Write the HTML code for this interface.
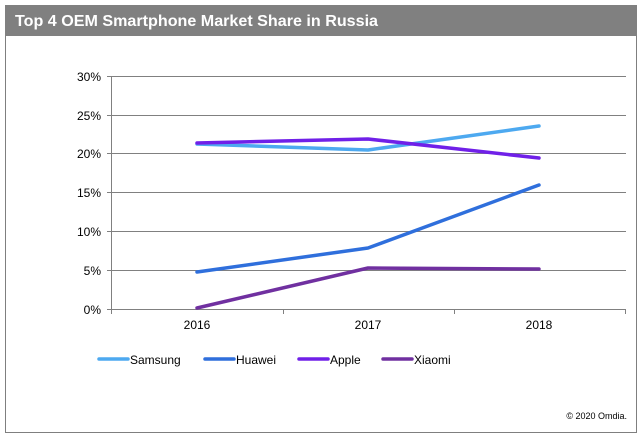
<!DOCTYPE html>
<html><head><style>
body{margin:0;background:#fff;}
svg text{font-family:"Liberation Sans",Arial,sans-serif;}
</style></head><body>
<svg width="642" height="438" xmlns="http://www.w3.org/2000/svg">
<rect x="5.5" y="5.5" width="631" height="427" fill="#fff" stroke="#7f7f7f"/>
<rect x="5" y="5" width="632" height="31" fill="#808080"/>
<text x="15" y="26" font-size="16" font-weight="bold" fill="#fff" textLength="363" lengthAdjust="spacingAndGlyphs">Top 4 OEM Smartphone Market Share in Russia</text>
<g stroke="#808080" stroke-width="1">
<line x1="107" y1="76.5" x2="626" y2="76.5"/>
<line x1="107" y1="115.5" x2="626" y2="115.5"/>
<line x1="107" y1="153.5" x2="626" y2="153.5"/>
<line x1="107" y1="192.5" x2="626" y2="192.5"/>
<line x1="107" y1="231.5" x2="626" y2="231.5"/>
<line x1="107" y1="270.5" x2="626" y2="270.5"/>
<line x1="107" y1="309.5" x2="626" y2="309.5"/>
<line x1="111.5" y1="76" x2="111.5" y2="309"/>
<line x1="111.5" y1="309" x2="111.5" y2="314"/>
<line x1="283.5" y1="309" x2="283.5" y2="314"/>
<line x1="454.5" y1="309" x2="454.5" y2="314"/>
<line x1="625.5" y1="309" x2="625.5" y2="314"/>
</g>
<g font-size="12" fill="#000" text-anchor="end">
<text x="101" y="81">30%</text><text x="101" y="120">25%</text><text x="101" y="158">20%</text>
<text x="101" y="197">15%</text><text x="101" y="236">10%</text><text x="101" y="275">5%</text><text x="101" y="314">0%</text>
</g>
<g font-size="12" fill="#000" text-anchor="middle">
<text x="197" y="329">2016</text><text x="368" y="329">2017</text><text x="539" y="329">2018</text>
</g>
<g fill="none" stroke-width="3.5" stroke-linecap="round" stroke-linejoin="round">
<polyline stroke="#4da9f0" points="197,144 368,150 539,126"/>
<polyline stroke="#2f6fdc" points="197,272 368,248 539,185"/>
<polyline stroke="#7020e8" points="197,143 368,139 539,158"/>
<polyline stroke="#7030a0" points="197,308 368,268 539,269"/>
</g>
<g stroke-width="3.5" stroke-linecap="round">
<line x1="99" y1="359" x2="128" y2="359" stroke="#4da9f0"/>
<line x1="205" y1="359" x2="234" y2="359" stroke="#2f6fdc"/>
<line x1="299" y1="359" x2="328" y2="359" stroke="#7020e8"/>
<line x1="383" y1="359" x2="412" y2="359" stroke="#7030a0"/>
</g>
<g font-size="12" fill="#000">
<text x="130" y="364">Samsung</text><text x="236" y="364">Huawei</text>
<text x="330" y="364">Apple</text><text x="414" y="364">Xiaomi</text>
</g>
<text x="627" y="419" font-size="9" text-anchor="end" fill="#000">© 2020 Omdia.</text>
</svg>
</body></html>
